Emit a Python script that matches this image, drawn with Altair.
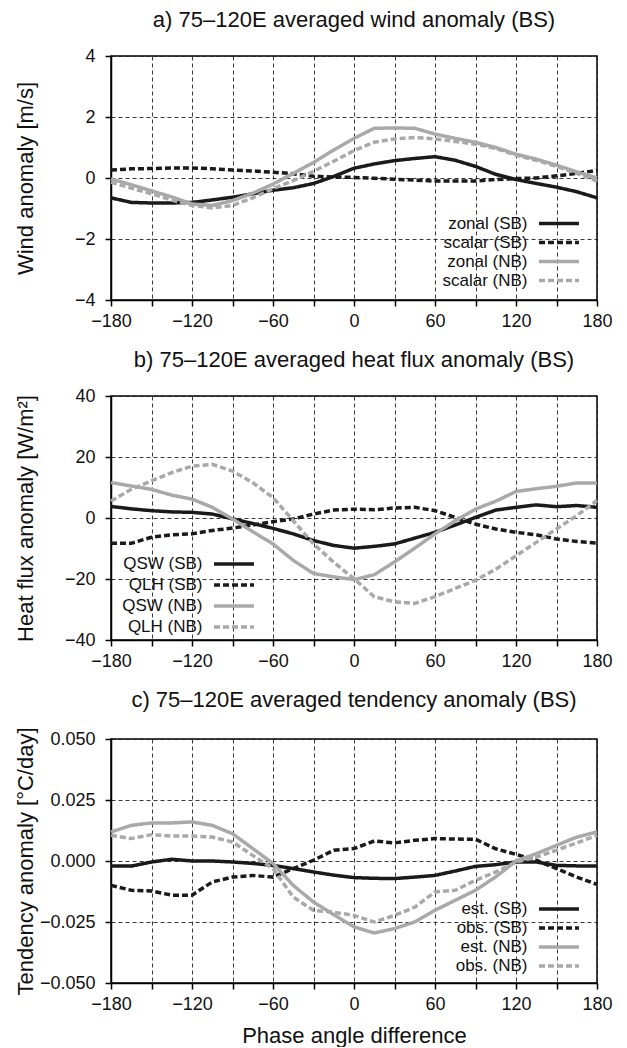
import altair as alt
import pandas as pd

phase = list(range(-180, 181, 15))

# a) wind anomaly [m/s]
wind_names = ["zonal (SB)", "scalar (SB)", "zonal (NB)", "scalar (NB)"]
zonal_sb = [-0.65, -0.8, -0.82, -0.82, -0.8, -0.72, -0.63, -0.52, -0.4, -0.32, -0.18, 0.05, 0.32,
            0.46, 0.57, 0.64, 0.7, 0.58, 0.38, 0.12, -0.05, -0.18, -0.3, -0.45, -0.65]
scalar_sb = [0.26, 0.3, 0.31, 0.33, 0.33, 0.3, 0.26, 0.23, 0.19, 0.14, 0.06, 0.03, 0.02,
             -0.01, -0.04, -0.07, -0.1, -0.1, -0.1, -0.05, -0.02, 0.0, 0.07, 0.15, 0.25]
zonal_nb = [-0.03, -0.22, -0.42, -0.62, -0.85, -0.9, -0.74, -0.5, -0.2, 0.15, 0.51, 0.92, 1.3,
            1.63, 1.64, 1.63, 1.44, 1.3, 1.17, 1.0, 0.78, 0.62, 0.42, 0.2, 0.0]
scalar_nb = [-0.14, -0.33, -0.52, -0.72, -0.9, -0.98, -0.9, -0.65, -0.35, -0.09, 0.22, 0.55, 0.9,
             1.17, 1.28, 1.33, 1.28, 1.2, 1.11, 0.97, 0.75, 0.58, 0.38, 0.15, -0.1]

# b) heat flux anomaly [W/m2]
flux_names = ["QSW (SB)", "QLH (SB)", "QSW (NB)", "QLH (NB)"]
qsw_sb = [3.8, 3.0, 2.4, 2.0, 1.85, 1.3, -0.3, -1.8, -3.4, -5.2, -7.4, -9.0, -9.9,
          -9.3, -8.5, -6.6, -4.7, -2.3, 0.2, 2.6, 3.5, 4.3, 3.7, 4.1, 3.5]
qlh_sb = [-8.3, -8.3, -6.3, -5.5, -5.2, -4.1, -3.3, -2.3, -1.2, -0.3, 1.3, 2.6, 2.9,
          2.7, 3.3, 3.5, 2.4, 0.2, -2.0, -3.6, -4.7, -5.5, -6.9, -7.7, -8.2]
qsw_nb = [11.6, 10.5, 9.4, 7.5, 6.2, 3.5, -0.3, -4.5, -8.5, -13.9, -18.2, -19.3, -20.2,
          -18.6, -14.4, -9.9, -5.2, -0.9, 2.9, 5.5, 8.7, 9.6, 10.4, 11.5, 11.5]
qlh_nb = [5.6, 9.4, 12.2, 14.9, 17.0, 17.6, 15.4, 11.6, 6.7, -0.9, -8.5, -14.5, -19.9,
          -25.8, -27.5, -28.0, -25.8, -23.1, -20.4, -16.8, -12.4, -8.0, -3.6, 0.8, 5.7]

# c) tendency anomaly [degC/day]
tend_names = ["est. (SB)", "obs. (SB)", "est. (NB)", "obs. (NB)"]
est_sb = [-0.002, -0.0021, -0.0004, 0.0007, 0.0, 0.0, -0.0004, -0.001, -0.0018, -0.0031, -0.0045,
          -0.0058, -0.0068, -0.0071, -0.0072, -0.0066, -0.0059, -0.0041, -0.0022, -0.0015,
          -0.0004, -0.0004, -0.0018, -0.002, -0.002]
obs_sb = [-0.01, -0.012, -0.0123, -0.014, -0.014, -0.0086, -0.0066, -0.0059, -0.0066, -0.0031,
          0.0003, 0.0044, 0.0051, 0.0082, 0.0074, 0.0085, 0.0092, 0.009, 0.0089, 0.005, 0.0027,
          0.0003, -0.0031, -0.0066, -0.0096]
est_nb = [0.0119, 0.0146, 0.0156, 0.0156, 0.016, 0.0146, 0.0112, 0.0051, -0.001, -0.01, -0.0168,
          -0.022, -0.027, -0.0295, -0.0277, -0.025, -0.0202, -0.0161, -0.012, -0.0065, 0.0,
          0.003, 0.0064, 0.0098, 0.0119]
obs_nb = [0.0105, 0.0092, 0.0108, 0.0102, 0.0102, 0.0098, 0.0078, 0.0023, -0.0031, -0.0148,
          -0.0202, -0.021, -0.0223, -0.025, -0.0223, -0.0189, -0.0127, -0.012, -0.0079, -0.0045,
          -0.0004, 0.0016, 0.0044, 0.0074, 0.0105]

FONT = "Liberation Sans"
BLACK = "#1a1a1a"
GREY = "#a9a9a9"
W, H = 486, 244


def panel(title, ytitle, names, series, domain, yticks, yfmt, lx, ly, row_pad, xtitle):
    rows = []
    for name, vals in zip(names, series):
        for p, v in zip(phase, vals):
            rows.append({"phase": p, "value": v, "series": name})
    df = pd.DataFrame(rows)
    legend = alt.Legend(
        title=None, orient="none", legendX=lx, legendY=ly,
        symbolType="M-2.35,0H2.35", symbolSize=289, symbolStrokeWidth=3.5,
        labelAlign="right", labelOffset={"expr": "-42"}, labelFontSize=17, labelFont=FONT,
        labelColor="#111", padding=0, rowPadding=row_pad, labelLimit=0,
    )
    xaxis_kw = dict(
        values=list(range(-180, 181, 30)),
        labelExpr="datum.value % 60 == 0 ? datum.label : ''",
        grid=True, gridDash=[4, 3], gridColor="#222", gridWidth=0.9,
        domainColor="#000", domainWidth=1.5, tickColor="#000", tickWidth=1.5, tickSize=6,
        labelFont=FONT, labelFontSize=18, labelColor="#111", labelPadding=6,
        labelFlush=False, labelOverlap=False,
    )
    if xtitle:
        xaxis = alt.Axis(title=xtitle, titleFont=FONT, titleFontSize=22, titleFontWeight="normal",
                         titleColor="#111", titlePadding=12, **xaxis_kw)
    else:
        xaxis = alt.Axis(title=None, **xaxis_kw)
    yaxis = alt.Axis(
        title=ytitle, values=yticks, format=yfmt,
        grid=True, gridDash=[4, 3], gridColor="#222", gridWidth=0.9,
        domainColor="#000", domainWidth=1.5, tickColor="#000", tickWidth=1.5, tickSize=6,
        labelFont=FONT, labelFontSize=18, labelColor="#111", labelPadding=10,
        titleFont=FONT, titleFontSize=22, titleFontWeight="normal", titleColor="#111",
        titleX=-86, titleY=H / 2, titleAngle=270, titleAlign="center", titleBaseline="middle",
    )
    chart = alt.Chart(df).mark_line(strokeWidth=3.5).encode(
        x=alt.X("phase:Q", scale=alt.Scale(domain=[-180, 180], nice=False, zero=False), axis=xaxis),
        y=alt.Y("value:Q", scale=alt.Scale(domain=domain, nice=False, zero=False), axis=yaxis),
        color=alt.Color("series:N", scale=alt.Scale(domain=names, range=[BLACK, BLACK, GREY, GREY]),
                        legend=legend),
        strokeDash=alt.StrokeDash("series:N",
                                  scale=alt.Scale(domain=names, range=[[1, 0], [6, 3], [1, 0], [6, 3]]),
                                  legend=legend),
    ).properties(
        width=W, height=H,
        title=alt.TitleParams(text=title, font=FONT, fontSize=22, fontWeight="normal",
                              color="#111", anchor="middle", offset=15),
    )
    return chart


pa = panel("a) 75–120E averaged wind anomaly (BS)", "Wind anomaly [m/s]", wind_names,
           [zonal_sb, scalar_sb, zonal_nb, scalar_nb], [-4, 4], [-4, -2, 0, 2, 4], "d",
           437.5, 157, 0, None)
pb = panel("b) 75–120E averaged heat flux anomaly (BS)", "Heat flux anomaly [W/m²]", flux_names,
           [qsw_sb, qlh_sb, qsw_nb, qlh_nb], [-40, 40], [-40, -20, 0, 20, 40], "d",
           112.5, 157.5, 2, None)
pc = panel("c) 75–120E averaged tendency anomaly (BS)", "Tendency anomaly [°C/day]", tend_names,
           [est_sb, obs_sb, est_nb, obs_nb], [-0.05, 0.05], [-0.05, -0.025, 0, 0.025, 0.05], ".3f",
           437.5, 159.5, 0, "Phase angle difference")

chart = alt.vconcat(pa, pb, pc, spacing=17).resolve_scale(
    color="independent", strokeDash="independent"
).configure_view(stroke="#000", strokeWidth=1.5).properties(
    padding={"left": 5, "top": 0, "right": 5, "bottom": 0}, background="white"
)

chart.save("out.html", embed_options={"renderer": "svg", "actions": False})
